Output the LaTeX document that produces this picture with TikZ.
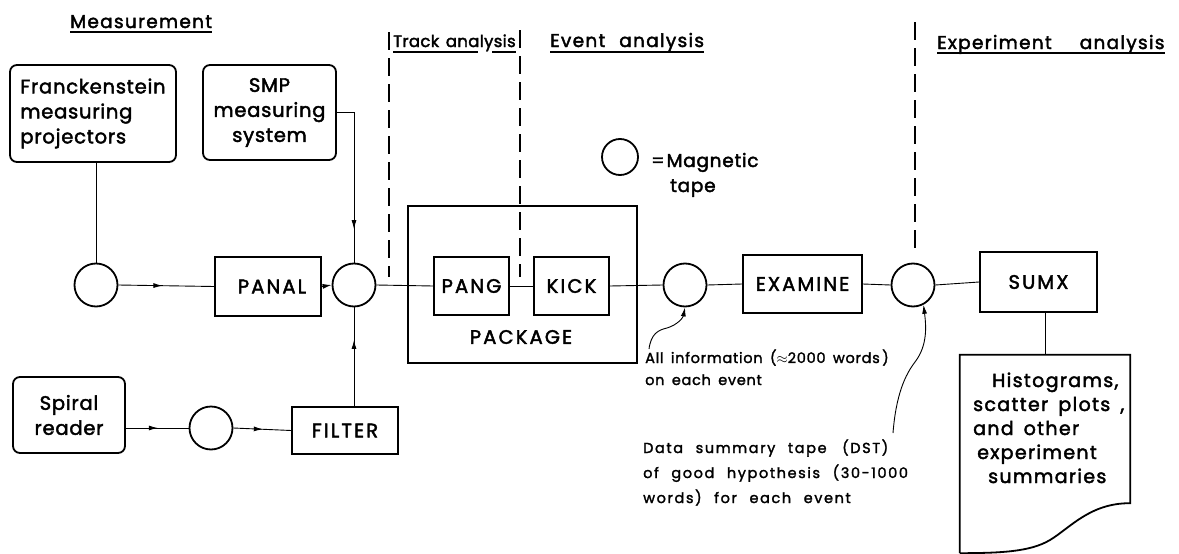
\documentclass[tikz,border=0pt]{standalone}
\usepackage{fontspec}
\setmainfont{Poppins}
\newfontfamily\capsfam[LetterSpace=11,WordSpace=1.6,FakeBold=2.2]{Poppins}
\newfontfamily\textfam[LetterSpace=4,WordSpace=1.6,FakeBold=2.2]{Poppins}
\newfontfamily\hdrfam[LetterSpace=7,WordSpace=1.6,FakeBold=2.2]{Poppins}
\newfontfamily\tightfam[LetterSpace=2,WordSpace=1.4,FakeBold=2.2]{Poppins}
\newfontfamily\infofam[LetterSpace=5,WordSpace=1.6,FakeBold=1.8]{Poppins}
\newfontfamily\dstfam[LetterSpace=11,WordSpace=2.3,FakeBold=1.8]{Poppins}
\usetikzlibrary{arrows.meta,decorations.markings}

\newcommand\capsfont{\capsfam\fontsize{19.5}{25}\selectfont}
\newcommand\boxtextfont{\textfam\fontsize{19.5}{25}\selectfont}
\newcommand\legendfont{\textfam\fontsize{18.5}{25}\selectfont}
\newcommand\hdrfont{\hdrfam\fontsize{18.5}{24}\selectfont}
\newcommand\docfont{\hdrfam\fontsize{19}{24}\selectfont}
\newcommand\trackfont{\tightfam\fontsize{16.5}{24}\selectfont}
\newcommand\infofont{\infofam\fontsize{14.5}{22}\selectfont}
\newcommand\dstfont{\dstfam\fontsize{14.5}{25}\selectfont}

\begin{document}
\begin{tikzpicture}[x=1pt,y=-1pt,
  box/.style={draw,line width=1.8pt,inner sep=0pt,align=center,font=\capsfont},
  rbox/.style={box,rounded corners=7pt,font=\boxtextfont},
  tape/.style={draw,circle,line width=1.8pt,minimum size=43pt,inner sep=0pt},
  link/.style={line width=0.9pt},
  arrowhd/.style={-{Latex[length=9pt,width=5pt]}},
  midarrow/.style={postaction={decorate},
    decoration={markings,mark=at position #1 with {\arrow{Latex[length=9pt,width=5pt]}}}},
  sepline/.style={line width=1.4pt,dash pattern=on 18pt off 8pt},
  hdr/.style={anchor=base west,inner sep=0pt,font=\hdrfont},
  txt/.style={anchor=base west,inner sep=0pt}
]
\useasboundingbox (0,0) rectangle (1179,554);

% section headings
\node[hdr] (hmeas) at (70,28) {Measurement};
\node[hdr,font=\trackfont] (htrack) at (393,47) {Track analysis};
\node[hdr] (hevent) at (550,47) {Event\hspace{14pt}analysis};
\node[hdr] (hexp) at (937,49) {Experiment\hspace{28pt}analysis};
\draw[line width=1.6pt] ([yshift=-4pt]hmeas.base west) -- ([yshift=-4pt]hmeas.base east);
\draw[line width=1.4pt] ([yshift=-5pt]htrack.base west) -- +(85,0);
\draw[line width=1.4pt] ([yshift=-5pt]htrack.base east) -- +(-24,0);
\draw[line width=1.4pt] ([yshift=-5pt]hevent.base west) -- ([yshift=-5pt]hevent.base east);
\draw[line width=1.4pt] ([yshift=-4pt]hexp.base west) -- ([yshift=-4pt]hexp.base east);

% dashed separators between the stages
\coordinate (s1a) at (389,32);  \coordinate (s1b) at (389,277);
\coordinate (s2a) at (520,30);  \coordinate (s2b) at (520,277);
\coordinate (s3a) at (915,22);  \coordinate (s3b) at (915,253);
\draw[sepline] (s1a) -- (s1b);
\draw[sepline] (s2a) -- (s2b);
\draw[sepline] (s3a) -- (s3b);

% measurement devices
\node[rbox,align=left,minimum width=166pt,minimum height=97pt] (frank) at (93,113.5)
  {Franckenstein\\measuring\\projectors};
\node[rbox,minimum width=133pt,minimum height=95pt] (smp) at (269.5,112.5)
  {SMP\\measuring\\system};
\node[rbox,minimum width=112pt,minimum height=76pt] (spiral) at (69,415)
  {Spiral\\reader};

% tapes
\node[tape] (c1) at (96,285) {};
\node[tape] (c2) at (354,285) {};
\node[tape] (c3) at (685,285) {};
\node[tape] (c4) at (913,285) {};
\node[tape] (c5) at (211,428) {};

% programs
\node[box,minimum width=106pt,minimum height=59pt] (panal) at (268,286.5) {\hspace{8pt}PANAL};
\node[box,minimum width=106pt,minimum height=47pt] (filter) at (345,430.5) {FILTER};
\node[draw,line width=1.3pt,inner sep=0pt,minimum width=229pt,minimum height=157pt] (pkg) at (522.5,284.5) {};
\node[box,minimum width=75pt,minimum height=58pt] (pang) at (471.5,286) {PANG};
\node[box,minimum width=75pt,minimum height=58pt] (kick) at (571.5,286) {KICK};
\node[font=\capsfont,inner sep=0pt] (pkgname) at (521,337) {PACKAGE};
\node[box,minimum width=119pt,minimum height=58pt] (examine) at (802.5,284) {EXAMINE};
\node[box,minimum width=117pt,minimum height=60pt] (sumx) at (1038.5,282) {SUMX};

% output document
\node[inner sep=0pt,minimum width=170pt,minimum height=198pt] (doc) at (1045,454) {};
\draw[line width=1.8pt] (doc.south west) -- (doc.north west) -- (doc.north east)
  -- ([yshift=50pt]doc.south east)
  .. controls (1090,503) and (1070,528) .. (1050,540)
  .. controls (1030,552) and (1000,553) .. (doc.south west);
\node[txt,font=\docfont] (d1) at (992,387) {Histograms,};
\node[txt,font=\docfont] (d2) at (973,411) {scatter plots ,};
\node[txt,font=\docfont] (d3) at (973,435) {and\hspace{10pt}other};
\node[txt,font=\docfont] (d4) at (977,459) {experiment};
\node[txt,font=\docfont] (d5) at (988,483) {summaries};

% legend
\node[tape,minimum size=36pt] (legend) at (620,157) {};
\node[txt,font=\legendfont] (leg1) at (651,167) {=\hspace{2pt}Magnetic};
\node[txt,font=\legendfont] (leg2) at (670,192) {tape};

% connectors
\draw[link] (c1 |- frank.south) -- (c1.north);
\draw[link,midarrow=0.46] (c1.east) -- (panal.west);
\draw[link,arrowhd] (panal.east) -- (c2.west);
\draw[link,midarrow=0.8] (smp.east) -| (c2.north);
\draw[link,midarrow=0.67] (c2 |- filter.north) -- (c2.south);
\draw[link,midarrow=0.51] (spiral.east |- c5) -- (c5.west);
\draw[link,midarrow=0.51] (c5.east) -- (filter.west);
\draw[link] (c2.east) -- (pang.west);
\draw[link] (pang.east) -- (kick.west);
\draw[link] (kick.east) -- (c3.west);
\draw[link] (c3.east) -- (examine.west);
\draw[link] (examine.east) -- (c4.west);
\draw[link] (c4.east) -- (sumx.west);
\draw[link] (sumx.south -| doc.north) -- (doc.north);

% annotations
\node[txt,font=\infofont] (info1) at (645,363) {All information ($\approx$2000 words\,)};
\node[txt,font=\infofont] (info2) at (645,385) {on each event};
\node[txt,font=\dstfont] (dst1) at (643,453) {Data summary tape \hspace{3pt}(DST)};
\node[txt,font=\dstfont] (dst2) at (643,478) {of good hypothesis (30-1000};
\node[txt,font=\dstfont] (dst3) at (643,503) {words) for each event};
\coordinate (infofoot) at (649,349);
\coordinate (dstfoot) at (893,433);
\draw[link,arrowhd] (infofoot) .. controls (651,334) and (658,330) .. (667,328)
  .. controls (677,325) and (683,318) .. (c3.south);
\draw[link,arrowhd] (dstfoot) .. controls (896,395) and (905,375) .. (915,362)
  .. controls (928,345) and (926,325) .. (c4.-62);
\end{tikzpicture}
\end{document}
